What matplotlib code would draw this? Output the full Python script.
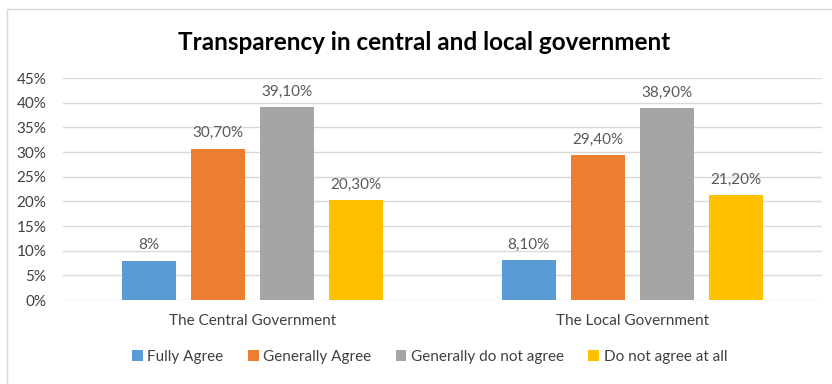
import numpy as np
import matplotlib.pyplot as plt
from matplotlib.patches import Rectangle

plt.rcParams["font.family"] = ["Lato", "DejaVu Sans"]

categories = ["The Central Government", "The Local Government"]
series_names = ["Fully Agree", "Generally Agree", "Generally do not agree", "Do not agree at all"]
fully_agree = [8.0, 8.1]
generally_agree = [30.7, 29.4]
generally_not = [39.1, 38.9]
not_at_all = [20.3, 21.2]
label_text = [
    ["8%", "8,10%"],
    ["30,70%", "29,40%"],
    ["39,10%", "38,90%"],
    ["20,30%", "21,20%"],
]
yticks = [0, 5, 10, 15, 20, 25, 30, 35, 40, 45]

colors = ["#5B9BD5", "#ED7D31", "#A5A5A5", "#FFC000"]

fig = plt.figure(figsize=(8.32, 3.84), dpi=100)
fig.patches.append(Rectangle((7 / 832, -0.1), 1.0, 1 - 9 / 384 + 0.1,
                             transform=fig.transFigure, fill=False,
                             edgecolor="#D9D9D9", linewidth=1))
ax = fig.add_axes([63 / 832, 1 - 300 / 384, (822 - 63) / 832, (300 - 78) / 384])

x = np.arange(len(categories))
step = 0.182
width = 0.142
series = [fully_agree, generally_agree, generally_not, not_at_all]
for i, vals in enumerate(series):
    pos = x + (i - 1.5) * step
    bars = ax.bar(pos, vals, width=width, color=colors[i], label=series_names[i], zorder=3)
    for bar, txt in zip(bars, label_text[i]):
        ax.annotate(txt, (bar.get_x() + bar.get_width() / 2, bar.get_height()),
                    xytext=(0, 6), textcoords="offset points",
                    ha="center", va="bottom", fontsize=11, color="#595959")

ax.set_xlim(-0.5, 1.5)
ax.set_ylim(0, 45)
ax.set_yticks(yticks)
ax.set_yticklabels([f"{t}%" for t in yticks])
ax.set_xticks(x)
ax.set_xticklabels(categories)
ax.tick_params(axis="both", length=0, labelsize=11, labelcolor="#404040")
ax.tick_params(axis="x", pad=10)
ax.tick_params(axis="y", pad=12)
ax.grid(axis="y", color="#D9D9D9", linewidth=1, zorder=0)
for s in ax.spines.values():
    s.set_visible(False)

fig.text(0.51, 1 - 42 / 384, "Transparency in central and local government",
         ha="center", va="center", fontsize=17.5, fontweight="bold", color="#000000")

ax.legend(loc="center", bbox_to_anchor=(0.483, -0.255), ncol=4, frameon=False,
          fontsize=11, handlelength=0.7, handleheight=0.7, handletextpad=0.3,
          columnspacing=1.6, labelcolor="#404040")

fig.savefig("out.png", dpi=100)
